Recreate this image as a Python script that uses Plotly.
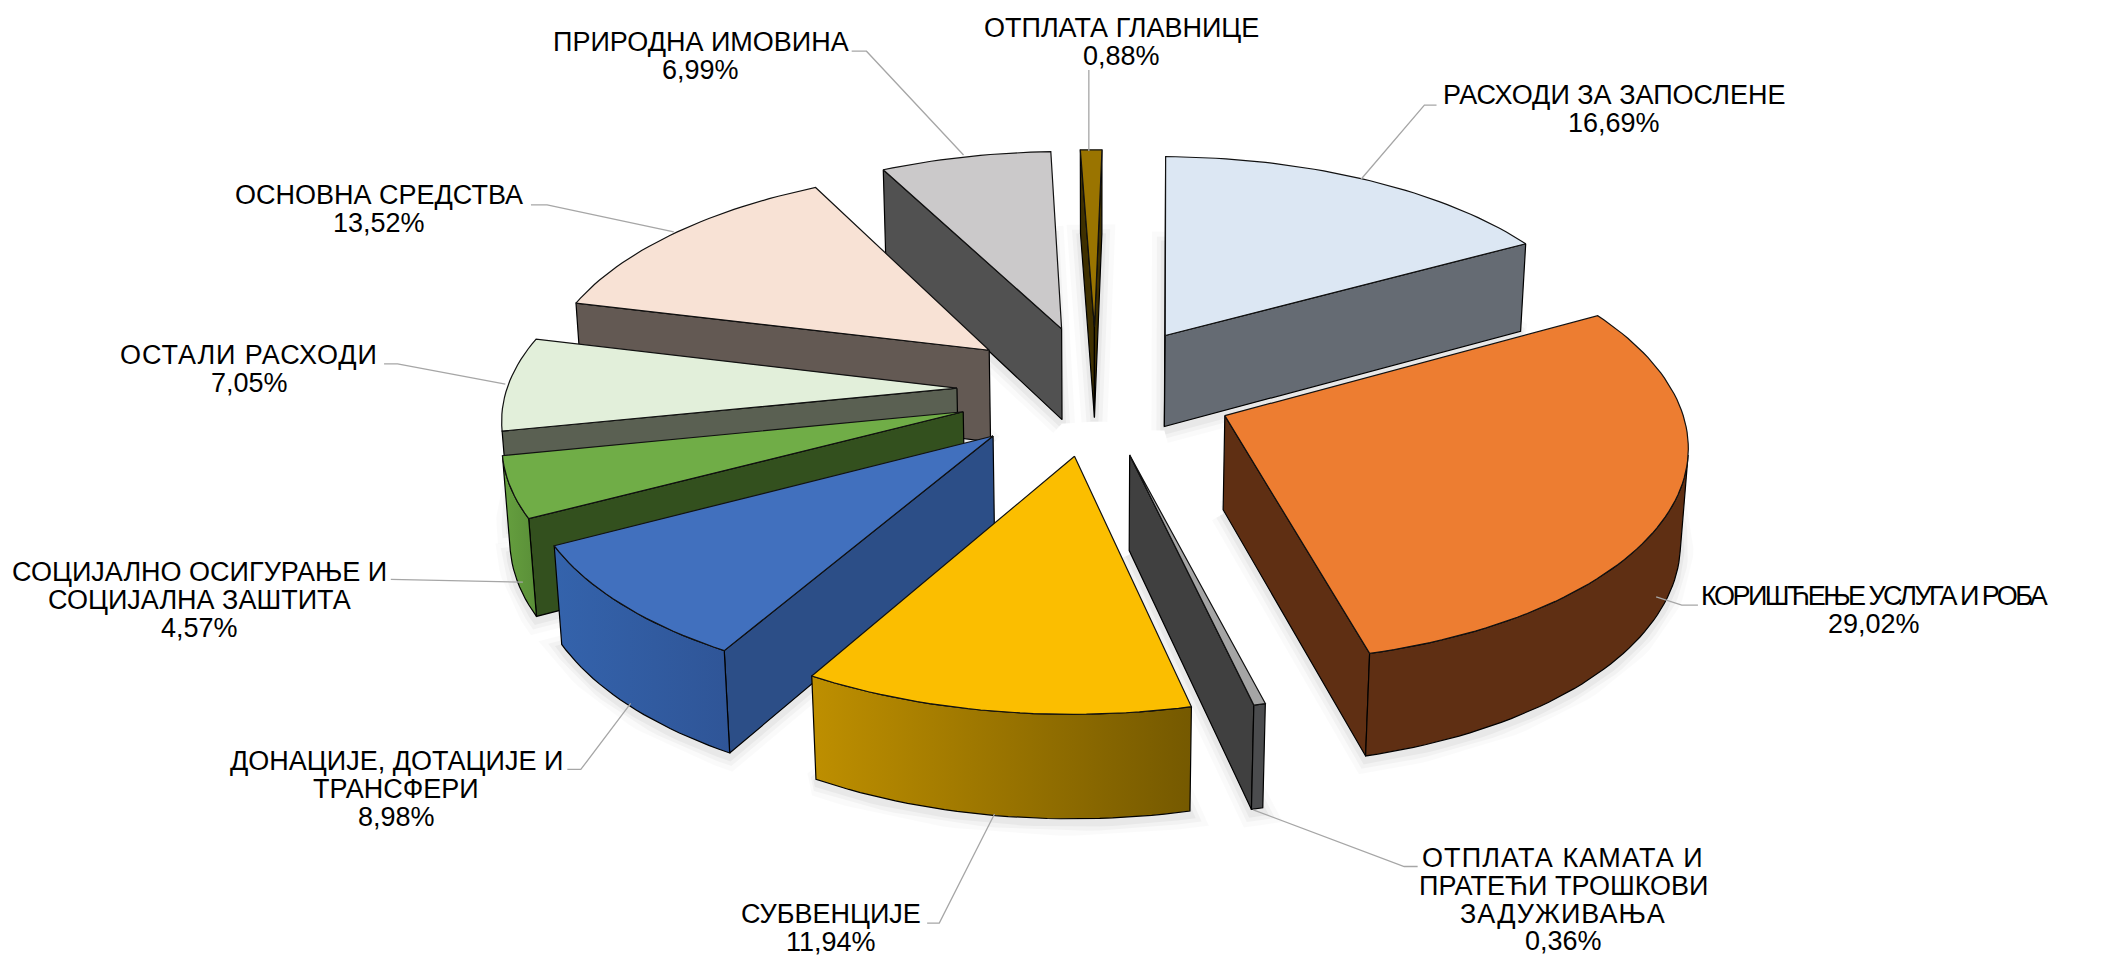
import math
import plotly.graph_objects as go

CATEGORIES = ["РАСХОДИ ЗА ЗАПОСЛЕНЕ", "КОРИШЋЕЊЕ УСЛУГА И РОБА", "ОТПЛАТА КАМАТА И ПРАТЕЋИ ТРОШКОВИ ЗАДУЖИВАЊА",
              "СУБВЕНЦИЈЕ", "ДОНАЦИЈЕ, ДОТАЦИЈЕ И ТРАНСФЕРИ", "СОЦИЈАЛНО ОСИГУРАЊЕ И СОЦИЈАЛНА ЗАШТИТА",
              "ОСТАЛИ РАСХОДИ", "ОСНОВНА СРЕДСТВА", "ПРИРОДНА ИМОВИНА", "ОТПЛАТА ГЛАВНИЦЕ"]
VALUES = [16.69, 29.02, 0.36, 11.94, 8.98, 4.57, 7.05, 13.52, 6.99, 0.88]
LABEL_LINES = [["РАСХОДИ ЗА ЗАПОСЛЕНЕ", "16,69%"], ["КОРИШЋЕЊЕ УСЛУГА И РОБА", "29,02%"],
               ["ОТПЛАТА КАМАТА И", "ПРАТЕЋИ ТРОШКОВИ", "ЗАДУЖИВАЊА", "0,36%"], ["СУБВЕНЦИЈЕ", "11,94%"],
               ["ДОНАЦИЈЕ, ДОТАЦИЈЕ И", "ТРАНСФЕРИ", "8,98%"],
               ["СОЦИЈАЛНО ОСИГУРАЊЕ И", "СОЦИЈАЛНА ЗАШТИТА", "4,57%"], ["ОСТАЛИ РАСХОДИ", "7,05%"],
               ["ОСНОВНА СРЕДСТВА", "13,52%"], ["ПРИРОДНА ИМОВИНА", "6,99%"], ["ОТПЛАТА ГЛАВНИЦЕ", "0,88%"]]

TOP_COLORS = ["#DCE7F3", "#ED7D31", "#A5A5A5", "#FBBE00", "#4170BE", "#70AD47", "#E2EFDA", "#F8E2D5", "#CBC9CA", "#9A7400"]
RADIAL_COLORS = ["#656B73", "#5F2F13", "#404040", "#8A6A00", "#2C4E87", "#33501E", "#5A6052", "#635953", "#515151", "#3F3000"]
OUTER_COLORS = [("#656B73", "#656B73"), ("#5F2F13", "#5F2F13"), ("#4B4C4E", "#4B4C4E"), ("#BE8F00", "#755900"),
                ("#3463AC", "#2F5597"), ("#66A03F", "#5A8F38"), ("#5A6052", "#5A6052"), ("#635953", "#635953"),
                ("#515151", "#515151"), ("#3F3000", "#3F3000")]

# label placement in the 1568-wide view of the picture: centre x, first line y
LABEL_POS = [(1198, 70.5), (1391, 442.5), (1160, 636.5), (617, 678), (294, 564.5), (148, 424.5), (185, 263.5), (281, 144.5), (520, 31.5), (832, 20.5)]
# letter-spacing (px) for lines whose tracking differs in the picture
TRACKING = {"КОРИШЋЕЊЕ УСЛУГА И РОБА": -2.5, "ОСТАЛИ РАСХОДИ": 0.9, "ОТПЛАТА КАМАТА И": 1.1, "ЗАДУЖИВАЊА": 1.0}
LEADERS = [[(1010, 133), (1057, 78), (1066, 78)], [(1229, 443), (1248, 449), (1260, 449)],
           [(930, 601), (1042, 643), (1052, 643)], [(738, 604), (697, 685), (688, 685)],
           [(468, 522), (431, 571), (421, 571)], [(388, 432), (298, 430), (290, 430)],
           [(375, 285), (295, 270), (285, 270)], [(500, 172), (406, 152), (394, 152)],
           [(715, 115), (643, 38), (632, 38)], [(808, 112), (808, 52)]]

W, H = 2113, 956
K = W / 1568
CX, CY = 813 * K, 389.6
SX, SY, DEPTH = 138.8, 65.0, 94.3     # horizontal scale, vertical scale, wall height
RADIUS, PERSP, PERSP_Z = 3.25, 0.0357, 0.013   # radius in explosion units, perspective terms
ROTATION = math.radians(1.5)
SHEAR, TILT = -0.0072, 0.67            # small view-skew terms
LINE_SPACING = 20.7 * K
FONT = dict(family="Liberation Sans", size=27, color="black")


def project(x, y, z=0.0):
    w = 1 + PERSP * y + PERSP_Z * z
    return CX + SX * (x + SHEAR * y) / w, CY + (-SY * y + DEPTH * z) / w - TILT * x


def area(pts):
    return sum(pts[i][0] * pts[(i + 1) % len(pts)][1] - pts[(i + 1) % len(pts)][0] * pts[i][1] for i in range(len(pts)))


fig = go.Figure()


def poly(pts, fill=None, gradient=None, lw=1.0, color="black"):
    xs = [p[0] for p in pts] + [pts[0][0]]
    ys = [p[1] for p in pts] + [pts[0][1]]
    kw = dict(fill="toself", fillcolor=fill) if fill else {}
    if gradient:
        kw = dict(fill="toself", fillgradient=dict(type="horizontal", colorscale=[[0, gradient[0]], [1, gradient[1]]]))
    fig.add_trace(go.Scatter(x=xs, y=ys, mode="lines", line=dict(color=color, width=lw), hoverinfo="skip", showlegend=False, **kw))


total = sum(VALUES)
slices = []
start = ROTATION
for i, v in enumerate(VALUES):
    end = start + v / total * 2 * math.pi
    slices.append((i, start, end, (start + end) / 2))
    start = end

# soft shadow below each wedge
for i, a0, a1, mid in slices:
    ax, ay = math.sin(mid), math.cos(mid)
    n = max(3, int((a1 - a0) * 40))
    thetas = [a0 + (a1 - a0) * j / n for j in range(n + 1)]
    base = [project(ax, ay, 1)] + [project(ax + RADIUS * math.sin(t), ay + RADIUS * math.cos(t), 1) for t in thetas]
    base = [(p[0], p[1] + 4) for p in base]
    for lw, alpha in ((26, 0.02), (16, 0.03), (8, 0.04)):
        poly(base, lw=lw, color=f"rgba(0,0,0,{alpha})")

for i, a0, a1, mid in sorted(slices, key=lambda s: -math.cos(s[3])):
    ax, ay = math.sin(mid), math.cos(mid)
    n = max(3, int((a1 - a0) * 40))
    thetas = [a0 + (a1 - a0) * j / n for j in range(n + 1)]
    rim = [(ax + RADIUS * math.sin(t), ay + RADIUS * math.cos(t)) for t in thetas]

    def quad(p, q):
        return [project(*p, 0), project(*q, 0), project(*q, 1), project(*p, 1)]

    for p, q in (((ax, ay), rim[0]), (rim[-1], (ax, ay))):
        q4 = quad(p, q)
        if area(q4) < 0:
            poly(q4, fill=RADIAL_COLORS[i], lw=1.2)

    visible = [j for j in range(n) if area(quad(rim[j], rim[j + 1])) < 0]
    if visible:
        run = rim[visible[0]:visible[-1] + 2]
        poly([project(*p, 0) for p in run] + [project(*p, 1) for p in reversed(run)], gradient=OUTER_COLORS[i], lw=1.2)

    poly([project(ax, ay, 0)] + [project(*p, 0) for p in rim], fill=TOP_COLORS[i], lw=1.2, color="#111111")

for pts in LEADERS:
    fig.add_trace(go.Scatter(x=[p[0] * K for p in pts], y=[p[1] * K for p in pts], mode="lines",
                             line=dict(color="#A6A6A6", width=1.3), hoverinfo="skip", showlegend=False))

annotations = []
for lines, (x, y) in zip(LABEL_LINES, LABEL_POS):
    for j, text in enumerate(lines):
        shown = text
        if text in TRACKING:
            shown = f'<span style="letter-spacing:{TRACKING[text]}px">{text}</span>'
        annotations.append(dict(x=x * K, y=y * K + j * LINE_SPACING, text=shown, showarrow=False, xanchor="center",
                                yanchor="middle", font=FONT))

fig.update_layout(width=W, height=H, margin=dict(l=0, r=0, t=0, b=0), paper_bgcolor="white", plot_bgcolor="white",
                  showlegend=False, annotations=annotations,
                  xaxis=dict(range=[0, W], visible=False, fixedrange=True),
                  yaxis=dict(range=[H, 0], visible=False, fixedrange=True))
fig.write_html("out.html", config=dict(displayModeBar=False),
               post_script="document.body.style.margin='0';document.body.style.overflow='hidden';")
